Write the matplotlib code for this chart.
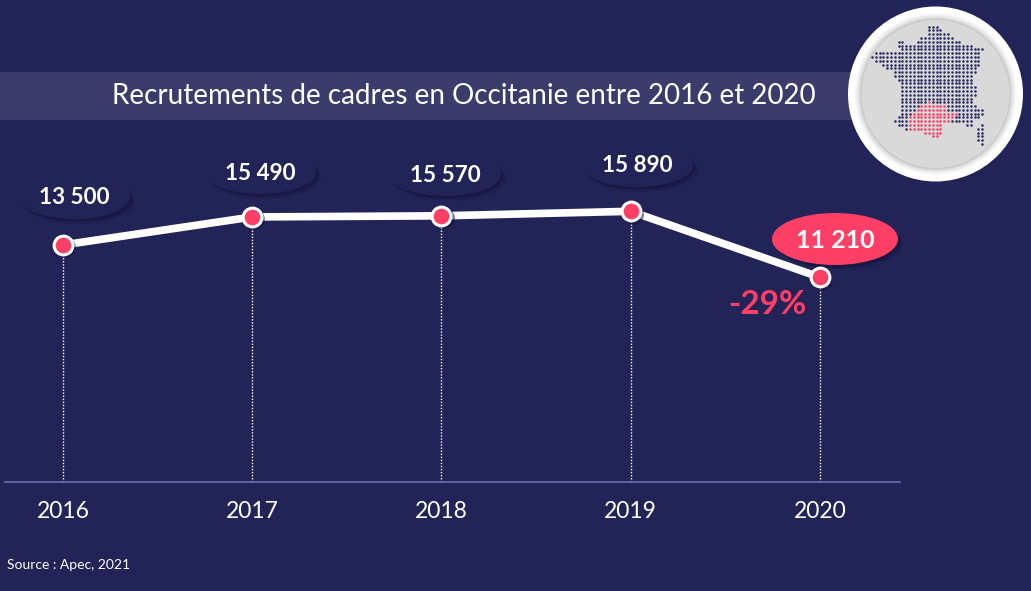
import matplotlib
matplotlib.use("Agg")
import matplotlib.pyplot as plt
from matplotlib.patches import Ellipse, Circle, Rectangle

plt.rcParams['font.family'] = ['Lato', 'DejaVu Sans']

W, H = 1031, 591
BG = '#222458'
RED = '#ff3f66'
NAVY = '#2b2a63'

# data
years = [2016, 2017, 2018, 2019, 2020]
recrutements = [13500, 15490, 15570, 15890, 11210]
labels = ['13 500', '15 490', '15 570', '15 890', '11 210']
title = 'Recrutements de cadres en Occitanie entre 2016 et 2020'
source = 'Source : Apec, 2021'
evolution = '-29%'

# dot map of France: one row per line, (first col, last col) spans
map_navy = [
    [(15, 17)], [(15, 18)], [(15, 20)], [(13, 21)],
    [(7, 8), (12, 23)], [(7, 8), (9, 26)], [(8, 29)], [(1, 28)],
    [(0, 28)], [(1, 28)], [(3, 28)], [(4, 27)], [(6, 27)], [(6, 26)],
    [(7, 26)], [(8, 26)], [(8, 27)], [(8, 27)], [(8, 27)], [(8, 26)],
    [(8, 26)], [(8, 27)], [(8, 29)], [(8, 29)], [(7, 28)], [(6, 26)],
    [(7, 9), (25, 26), (29, 29)], [(9, 9), (28, 29)], [(28, 29)],
    [(28, 29)], [(28, 29)], [(29, 29)],
]
map_pink = {
    20: [(15, 15)], 21: [(13, 16), (17, 19)], 22: [(12, 19)], 23: [(11, 22)],
    24: [(10, 21)], 25: [(10, 20)], 26: [(10, 18)], 27: [(10, 18)],
    28: [(14, 18)], 29: [(16, 17)],
}


def px_axes(left, top, right, bottom):
    return fig.add_axes([left / W, 1 - bottom / H, (right - left) / W, (bottom - top) / H])


fig = plt.figure(figsize=(W / 100, H / 100), dpi=100, facecolor=BG)

# background layer in pixel coordinates
bg = fig.add_axes([0, 0, 1, 1], zorder=0)
bg.set_xlim(0, W)
bg.set_ylim(H, 0)
bg.axis('off')
bg.add_patch(Rectangle((0, 72), 860, 48, color='#3b3c6b', lw=0))
bg.text(464, 96, title, color='white', fontsize=20, ha='center', va='center')
bg.text(7, 565, source, color='white', fontsize=10, ha='left', va='center')


def bubble(cx, cy, w, h, color, shadow='#14153c'):
    for i, a in zip((5, 4, 3, 2), (0.12, 0.2, 0.3, 0.4)):
        bg.add_patch(Ellipse((cx + i, cy + i), w, h, color=shadow, alpha=a, lw=0))
    bg.add_patch(Ellipse((cx, cy), w, h, color=color, lw=0))


bubble_x = [74, 260, 445, 637, 835]
bubble_y = [197, 172, 174, 165, 239]
for i, lab in enumerate(labels):
    last = i == len(labels) - 1
    if last:
        bubble(bubble_x[i], bubble_y[i], 126, 52, RED)
    else:
        bubble(bubble_x[i], bubble_y[i], 112, 44, BG)
    bg.text(bubble_x[i], bubble_y[i] + 1, lab, color='white', fontsize=18 if last else 16.2,
            fontweight='bold', ha='center', va='center', zorder=5)
bg.text(767, 304, evolution, color=RED, fontsize=24, fontweight='bold', ha='center', va='center')

# round badge behind the map
bg.add_patch(Circle((935.5, 94), 87.5, color='white', lw=0))
for r, c in zip((81, 80, 79, 78, 77, 76, 75), ('#fafafa', '#f4f4f4', '#eeeeee', '#e6e6e6', '#dedede', '#d4d4d4', '#c8c8c8')):
    bg.add_patch(Circle((935.5, 94), r, color=c, lw=0))
bg.add_patch(Circle((935.5, 94), 74, color='#d9d9d9', lw=0))

# dot map
m = px_axes(872, 26.7, 872 + 29 * 3.8, 26.7 + 31 * 3.78)
m.set_xlim(0, 29)
m.set_ylim(31, 0)
m.axis('off')
m.patch.set_alpha(0)
navy_c, navy_r, pink_c, pink_r = [], [], [], []
for row, spans in enumerate(map_navy):
    pink = [c for a, b in map_pink.get(row, []) for c in range(a, b + 1)]
    pink_c += pink
    pink_r += [row] * len(pink)
    for a, b in spans:
        for c in range(a, b + 1):
            if c not in pink:
                navy_c.append(c)
                navy_r.append(row)
m.scatter(navy_c, navy_r, s=3.4, color=NAVY, lw=0, clip_on=False)
m.scatter(pink_c, pink_r, s=3.4, color=RED, lw=0, clip_on=False)

# line chart
ax = px_axes(5, 140, 900, 482)
ax.patch.set_alpha(0)
ax.set_xlim(2015.694, 2020.423)
ax.set_ylim(-3308, 20947)
for s in ('top', 'left', 'right'):
    ax.spines[s].set_visible(False)
ax.spines['bottom'].set_color('#6a6fb5')
ax.spines['bottom'].set_linewidth(1.2)
ax.set_yticks([])
ax.set_xticks(years)
ax.set_xticklabels(years)
ax.tick_params(axis='x', length=0, pad=14, labelsize=16.5, labelcolor='white')

ax.vlines(years, -3308, recrutements, color='white', lw=1, linestyles=(0, (1, 1.2)), zorder=1)
ax.plot(years, recrutements, color='white', lw=5.5, zorder=2, solid_capstyle='round')
ax.plot([y + 0.012 for y in years], [v - 170 for v in recrutements], 'o', ms=15, color='#14153c', alpha=0.55, mew=0, zorder=2)
ax.plot(years, recrutements, 'o', ms=13.5, mfc=RED, mec='white', mew=2.2, zorder=3)

fig.savefig('out.png', dpi=100, facecolor=BG)
